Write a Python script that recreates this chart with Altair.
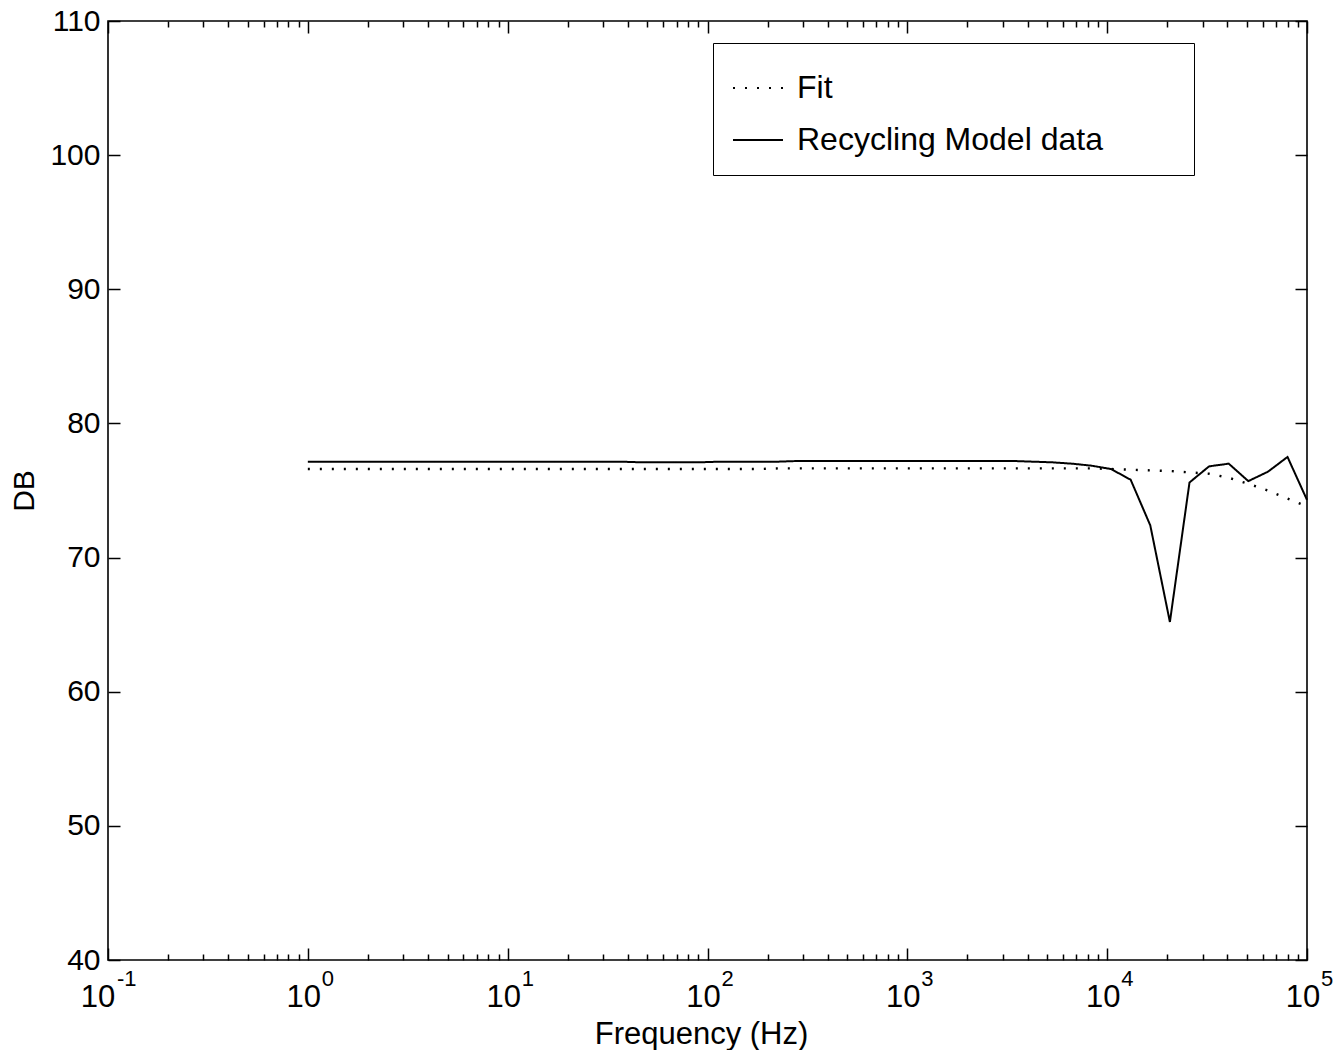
import altair as alt
import pandas as pd

# ---------------- data ----------------
FREQ = [1.0, 1.254, 1.571, 1.969, 2.468, 3.094, 3.878, 4.861, 6.094, 7.638,
        9.574, 11.98, 15.02, 18.82, 23.59, 29.58, 37.07, 46.42, 58.20, 72.96,
        91.45, 114.6, 143.7, 180.1, 225.7, 283.0, 354.7, 444.6, 557.3, 698.5,
        873.5, 1094.5, 1372, 1720, 2154, 2700, 3385, 4243, 5318, 6666,
        8356, 10462, 13112, 16435, 20601, 25823, 32367, 40570, 50852, 63740,
        79896, 100000]

RECYCLING_DB = [77.15, 77.15, 77.15, 77.15, 77.15, 77.15, 77.15, 77.15, 77.15, 77.15,
                77.15, 77.15, 77.15, 77.15, 77.15, 77.15, 77.15, 77.1, 77.1, 77.1,
                77.1, 77.15, 77.15, 77.15, 77.15, 77.2, 77.2, 77.2, 77.2, 77.2,
                77.2, 77.2, 77.2, 77.2, 77.2, 77.2, 77.2, 77.15, 77.1, 77.0,
                76.85, 76.6, 75.8, 72.4, 65.2, 75.6, 76.8, 77.0, 75.7, 76.4,
                77.5, 74.3]

FIT_DB = [76.6, 76.6, 76.6, 76.6, 76.6, 76.6, 76.6, 76.6, 76.6, 76.6,
          76.6, 76.6, 76.6, 76.6, 76.6, 76.6, 76.6, 76.6, 76.6, 76.6,
          76.6, 76.6, 76.6, 76.6, 76.65, 76.65, 76.65, 76.65, 76.65, 76.65,
          76.65, 76.65, 76.65, 76.65, 76.65, 76.65, 76.65, 76.65, 76.65, 76.65,
          76.65, 76.6, 76.55, 76.5, 76.45, 76.35, 76.25, 75.95, 75.5, 75.0,
          74.4, 73.8]

SERIES = ["Fit", "Recycling Model data"]

X_MAJOR = [0.1, 1, 10, 100, 1000, 10000, 100000]
X_EXPONENTS = ["-1", "0", "1", "2", "3", "4", "5"]
X_NEGATIVE = [1, 0, 0, 0, 0, 0, 0]
X_MINOR_MULT = [2, 3, 4, 5, 6, 7, 8, 9]
Y_TICKS = [40, 50, 60, 70, 80, 90, 100, 110]

# ---------------- layout ----------------
W, H = 1199, 939
FONT = "Liberation Sans"

x_ticks = sorted(X_MAJOR + [m * v for v in X_MAJOR[:-1] for m in X_MINOR_MULT])

df = pd.DataFrame({
    "freq": FREQ * 2,
    "db": FIT_DB + RECYCLING_DB,
    "series": [SERIES[0]] * len(FREQ) + [SERIES[1]] * len(FREQ),
})
labels = pd.DataFrame({"f": X_MAJOR, "e": X_EXPONENTS, "neg": X_NEGATIVE})

xscale = alt.Scale(type="log", domain=[0.1, 100000], nice=False)
yscale = alt.Scale(domain=[40, 110], nice=False, zero=False)

major_test = "abs(log(datum.value)/LN10 - round(log(datum.value)/LN10)) < 0.001"
x_tick_size = {"condition": {"test": major_test, "value": 12}, "value": 6}


def x_tick_axis(orient):
    return alt.Axis(orient=orient, offset=-H, values=x_ticks, tickSize=x_tick_size,
                    tickWidth=1.5, tickColor="black", labels=False, domain=False,
                    grid=False, title=None)


def y_tick_axis(orient):
    return alt.Axis(orient=orient, offset=-W, values=Y_TICKS, tickSize=12,
                    tickWidth=1.5, tickColor="black", labels=False, domain=False,
                    grid=False, title=None)


# trailing non-breaking spaces widen the legend box (zero-width space keeps them from being trimmed)
pad = "\u00a0" * 8 + "\u200b"
dash = alt.StrokeDash(
    "series:N",
    scale=alt.Scale(domain=SERIES, range=[[2, 10], [1, 0]]),
    legend=alt.Legend(
        title=None,
        orient="none", legendX=605, legendY=22,
        symbolType="stroke", symbolSize=2500, symbolStrokeWidth=2,
        symbolStrokeColor="black",
        labelFont=FONT, labelFontSize=32, labelColor="black", labelLimit=800,
        labelOffset=13, labelExpr="datum.label + '" + pad + "'",
        padding=19, rowPadding=10,
        strokeColor="black", fillColor="white",
    ),
)

fit = alt.Chart(df).transform_filter(f"datum.series == '{SERIES[0]}'").mark_line(
    color="black", strokeWidth=2.4, strokeCap="butt"
).encode(
    x=alt.X("freq:Q", scale=xscale, axis=x_tick_axis("top")),
    y=alt.Y("db:Q", scale=yscale, axis=y_tick_axis("right")),
    strokeDash=dash,
)

model = alt.Chart(df).transform_filter(f"datum.series == '{SERIES[1]}'").mark_line(
    color="black", strokeWidth=2
).encode(
    x=alt.X("freq:Q", scale=xscale, axis=x_tick_axis("bottom")),
    y=alt.Y("db:Q", scale=yscale, axis=y_tick_axis("left")),
    strokeDash=dash,
)

y_labels = alt.Chart(df).mark_line(opacity=0).encode(
    x=alt.X("freq:Q", scale=xscale, axis=None),
    y=alt.Y("db:Q", scale=yscale, axis=alt.Axis(
        orient="left", values=Y_TICKS, ticks=False, domain=False, grid=False,
        labelFont=FONT, labelFontSize=30, labelColor="black", labelPadding=8,
        title="DB", titleFont=FONT, titleFontSize=30, titleFontWeight="normal",
        titleColor="black", titleX=-75, titleBaseline="alphabetic",
    )),
)

tens = alt.Chart(labels).mark_text(
    font=FONT, fontSize=31, color="black", align="center", baseline="alphabetic",
    dx=alt.ExprRef("datum.neg == 1 ? -10 : -4"),
).encode(
    x=alt.X("f:Q", scale=xscale, axis=alt.Axis(
        orient="bottom", ticks=False, labels=False, domain=False, grid=False,
        title="Frequency (Hz)", titleFont=FONT, titleFontSize=31,
        titleFontWeight="normal", titleColor="black",
        titleX=593, titleY=83, titleBaseline="alphabetic",
    )),
    y=alt.value(H + 47),
    text=alt.value("10"),
)

exps = alt.Chart(labels).mark_text(
    font=FONT, fontSize=22, color="black", align="left", baseline="alphabetic",
    dx=alt.ExprRef("datum.neg == 1 ? 9 : 14"),
).encode(
    x=alt.X("f:Q", scale=xscale, axis=None),
    y=alt.value(H + 26),
    text="e:N",
)

chart = alt.layer(fit, model, y_labels, tens, exps).resolve_axis(
    x="independent", y="independent"
).properties(
    width=W, height=H,
    autosize=alt.AutoSizeParams(type="none"),
    padding={"left": 100, "top": 13, "right": 28, "bottom": 90},
    background="white",
).configure_view(
    stroke="black", strokeWidth=1.6
).configure_axis(grid=False)

chart.save("out.html", embed_options={"renderer": "svg", "actions": False})
